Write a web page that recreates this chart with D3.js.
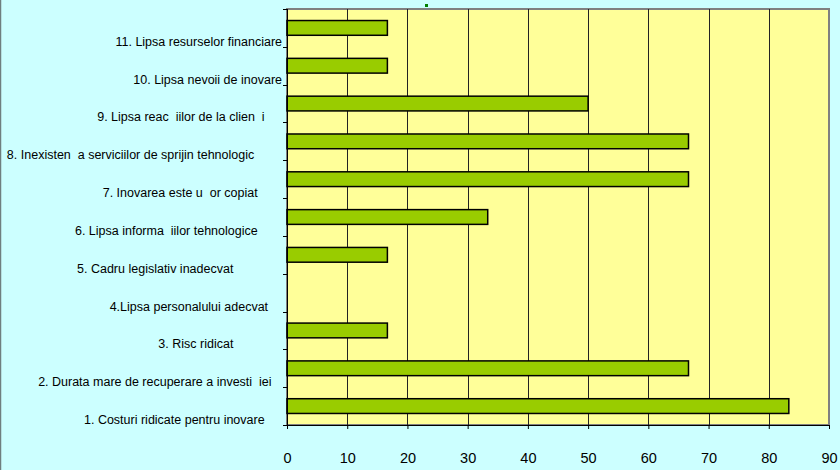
<!DOCTYPE html>
<html>
<head>
<meta charset="utf-8">
<script src="https://cdn.jsdelivr.net/npm/d3@7"></script>
<style>
  body { margin: 0; background: #ccffff; }
  svg { display: block; }
</style>
</head>
<body>
<div id="chart"></div>
<script>
// categories listed top to bottom, trailing blanks kept as in the original labels
const categories = [
    "11. Lipsa resurselor financiare",
    "10. Lipsa nevoii de inovare",
    "9. Lipsa reac  iilor de la clien  i     ",
    "8. Inexisten  a serviciilor de sprijin tehnologic        ",
    "7. Inovarea este u  or copiat       ",
    "6. Lipsa informa  iilor tehnologice       ",
    "5. Cadru legislativ inadecvat              ",
    "4.Lipsa personalului adecvat    ",
    "3. Risc ridicat              ",
    "2. Durata mare de recuperare a investi  iei   ",
    "1. Costuri ridicate pentru inovare     "
];
const values = [16.67, 16.67, 50, 66.67, 66.67, 33.33, 16.67, 0, 16.67, 66.67, 83.33];
const xTicks = [0, 10, 20, 30, 40, 50, 60, 70, 80, 90];

const w = 840, h = 470;
const plot = {left: 287, right: 829, top: 9, bottom: 425};

let rows = categories.map((c, i) => ({category: c, value: values[i]}));

let svg = d3.select("#chart").append("svg")
    .attr("width", w)
    .attr("height", h);

svg.append("rect")
    .attr("width", w).attr("height", h)
    .attr("fill", "#ccffff");

svg.append("line")
    .attr("x1", 0.5).attr("x2", 0.5)
    .attr("y1", 0).attr("y2", h)
    .attr("stroke", "#6f7f7f").attr("stroke-width", 1.5);

// little green mark left of the old title
svg.append("rect")
    .attr("x", 425).attr("y", 4)
    .attr("width", 3).attr("height", 3)
    .attr("fill", "#008000");

let x = d3.scaleLinear().domain([0, 90]).range([plot.left, plot.right]);
let y = d3.scaleBand().domain(categories).range([plot.top, plot.bottom]).padding(0);

svg.append("rect")
    .attr("x", plot.left).attr("y", plot.top)
    .attr("width", plot.right - plot.left)
    .attr("height", plot.bottom - plot.top)
    .attr("fill", "#ffff99")
    .attr("stroke", "#808080")
    .attr("stroke-width", 2);

// vertical grid
svg.append("g")
    .selectAll("line")
    .data(xTicks.slice(1, -1))
    .enter().append("line")
    .attr("x1", d => Math.round(x(d)) + 0.5)
    .attr("x2", d => Math.round(x(d)) + 0.5)
    .attr("y1", plot.top)
    .attr("y2", plot.bottom)
    .attr("stroke", "#222")
    .attr("stroke-width", 1);

// bars
let barH = y.bandwidth() * 0.39;
svg.append("g")
    .selectAll("rect")
    .data(rows.filter(d => d.value > 0))
    .enter().append("rect")
    .attr("x", x(0))
    .attr("y", d => y(d.category) + (y.bandwidth() - barH) / 2)
    .attr("width", d => x(d.value) - x(0))
    .attr("height", barH)
    .attr("fill", "#99cc00")
    .attr("stroke", "#000")
    .attr("stroke-width", 1.5);

// x axis
let xAxis = svg.append("g")
    .attr("transform", "translate(0," + plot.bottom + ")")
    .call(d3.axisBottom(x).tickValues(xTicks).tickSize(4).tickPadding(24));
xAxis.select(".domain").attr("stroke", "#000");
xAxis.selectAll("text")
    .style("font-family", "Arial, 'Liberation Sans', sans-serif")
    .style("font-size", "14.5px")
    .attr("fill", "#000");

// y axis: ticks on the band boundaries
let yAxis = svg.append("g");
yAxis.append("line")
    .attr("x1", plot.left + 0.5).attr("x2", plot.left + 0.5)
    .attr("y1", plot.top).attr("y2", plot.bottom)
    .attr("stroke", "#000");
yAxis.selectAll("line.tick")
    .data(categories.concat(["end"]))
    .enter().append("line")
    .attr("class", "tick")
    .attr("x1", plot.left - 4).attr("x2", plot.left)
    .attr("y1", (d, i) => Math.round(plot.top + i * y.step()) + 0.5)
    .attr("y2", (d, i) => Math.round(plot.top + i * y.step()) + 0.5)
    .attr("stroke", "#000");

yAxis.selectAll("text")
    .data(categories)
    .enter().append("text")
    .attr("x", 282)
    .attr("y", d => y(d) + y.step() - 1)
    .attr("text-anchor", "end")
    .attr("xml:space", "preserve")
    .style("white-space", "pre")
    .style("font-family", "Arial, 'Liberation Sans', sans-serif")
    .style("font-size", "12.5px")
    .attr("fill", "#000")
    .text(d => d);
</script>
</body>
</html>
